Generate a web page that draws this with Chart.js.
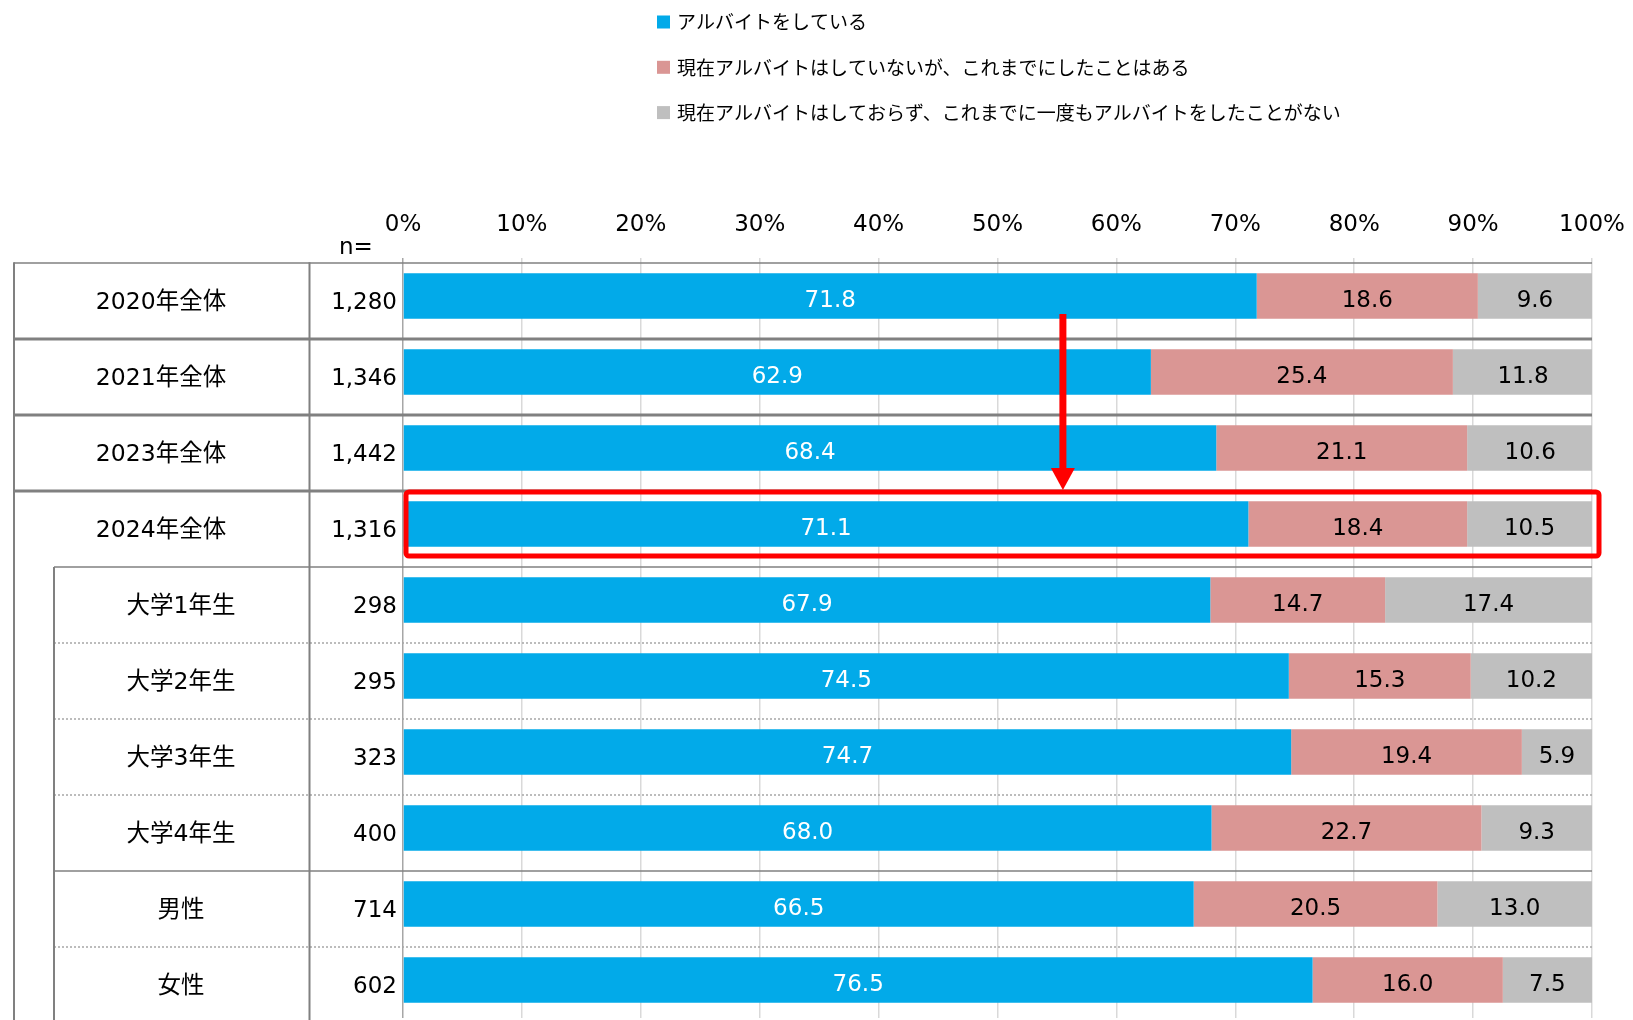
<!DOCTYPE html>
<html lang="ja">
<head>
<meta charset="utf-8">
<title>アルバイトの状況</title>
<script src="https://cdn.jsdelivr.net/npm/chart.js@4.4.1/dist/chart.umd.min.js"></script>
<style>
  html, body { margin: 0; padding: 0; background: #fff; overflow: hidden; }
  #wrap { width: 1633px; height: 1020px; }
</style>
</head>
<body>
<div id="wrap"><canvas id="myChart" width="1633" height="1020"></canvas></div>
<script>
// data
const categories = ['2020年全体', '2021年全体', '2023年全体', '2024年全体', '大学1年生', '大学2年生', '大学3年生', '大学4年生', '男性', '女性'];
const sampleSizes = ['1,280', '1,346', '1,442', '1,316', '298', '295', '323', '400', '714', '602'];
const working = [71.8, 62.9, 68.4, 71.1, 67.9, 74.5, 74.7, 68.0, 66.5, 76.5];
const workedBefore = [18.6, 25.4, 21.1, 18.4, 14.7, 15.3, 19.4, 22.7, 20.5, 16.0];
const neverWorked = [9.6, 11.8, 10.6, 10.5, 17.4, 10.2, 5.9, 9.3, 13.0, 7.5];
const seriesNames = [
  'アルバイトをしている',
  '現在アルバイトはしていないが、これまでにしたことはある',
  '現在アルバイトはしておらず、これまでに一度もアルバイトをしたことがない'
];
const seriesColors = ['#02AAE9', '#DA9694', '#BFBFBF'];

const FONT = '"DejaVu Sans", "Noto Sans CJK JP", sans-serif';
const JP = '"Noto Sans CJK JP", sans-serif';

// table lines, row labels, n=, legend, highlight box and arrow
const tablePlugin = {
  id: 'table',
  afterDatasetsDraw(chart) {
    const ctx = chart.ctx;
    chart.data.datasets.forEach(function(ds, d) {
      const meta = chart.getDatasetMeta(d);
      meta.data.forEach(function(bar, i) {
        ctx.save();
        ctx.font = '23px ' + FONT;
        ctx.fillStyle = d === 0 ? '#fff' : '#000';
        ctx.textAlign = 'center';
        ctx.textBaseline = 'middle';
        ctx.fillText(ds.data[i].toFixed(1), (bar.x + bar.base) / 2, bar.y + 5);
        ctx.restore();
      });
    });
  },
  afterDraw(chart) {
    const ctx = chart.ctx;
    const area = chart.chartArea;
    const ys = chart.scales.y;
    const xs = chart.scales.x;
    const step = ys.getPixelForValue(1) - ys.getPixelForValue(0);
    const rowTop = function(i) { return ys.getPixelForValue(i) - step / 2 + 5; };
    const n = categories.length;
    const bottom = chart.height;

    // horizontal separators
    const sepStyle = ['thin', 'thick', 'thick', 'thick', 'thin', 'dot', 'dot', 'dot', 'thin', 'dot'];
    ctx.save();
    for (let k = 0; k < n; k++) {
      const yy = rowTop(k);
      const x0 = k < 4 ? 14 : 54;
      ctx.beginPath();
      ctx.setLineDash([]);
      if (sepStyle[k] === 'thick') {
        ctx.lineWidth = 3.2; ctx.strokeStyle = '#808080';
      } else if (sepStyle[k] === 'thin') {
        ctx.lineWidth = 1.6; ctx.strokeStyle = '#808080';
      } else {
        ctx.lineWidth = 1.5; ctx.strokeStyle = '#a6a6a6'; ctx.setLineDash([2, 2]);
      }
      ctx.moveTo(x0, yy);
      ctx.lineTo(area.right, yy);
      ctx.stroke();
    }
    // vertical table lines
    ctx.setLineDash([]);
    ctx.lineWidth = 2;
    ctx.strokeStyle = '#808080';
    ctx.beginPath();
    ctx.moveTo(14, rowTop(0) - 0.8); ctx.lineTo(14, bottom);
    ctx.moveTo(309.5, rowTop(0) - 0.8); ctx.lineTo(309.5, bottom);
    ctx.moveTo(54, rowTop(4)); ctx.lineTo(54, bottom);
    ctx.stroke();
    ctx.restore();

    // row labels and n values
    ctx.save();
    ctx.fillStyle = '#000';
    ctx.textBaseline = 'middle';
    categories.forEach(function(c, i) {
      const cy = ys.getPixelForValue(i) + 7;
      ctx.font = '23.5px ' + FONT;
      ctx.textAlign = 'center';
      ctx.fillText(c, i < 4 ? 161 : 181, cy);
      ctx.font = '23px ' + FONT;
      ctx.textAlign = 'right';
      ctx.fillText(sampleSizes[i], 397, cy);
    });
    ctx.font = '23px ' + FONT;
    ctx.textAlign = 'left';
    ctx.fillText('n=', 339, 248);
    ctx.restore();

    // legend
    ctx.save();
    ctx.textBaseline = 'middle';
    ctx.textAlign = 'left';
    ctx.font = '19px ' + JP;
    chart.data.datasets.forEach(function(ds, d) {
      const ly = 22 + d * 45.3;
      ctx.fillStyle = ds.backgroundColor;
      ctx.fillRect(657, ly - 6.5, 13, 13);
      ctx.fillStyle = '#000';
      ctx.fillText(ds.label, 677, ly);
    });
    ctx.restore();

    // red highlight box around 2024
    const hy = ys.getPixelForValue(3);
    ctx.save();
    ctx.strokeStyle = '#FF0000';
    ctx.lineWidth = 5;
    ctx.beginPath();
    ctx.roundRect(area.left + 3, hy - 32, area.right - area.left + 4, 64, 3);
    ctx.stroke();

    // red arrow from 2020 down to 2024
    const ax = xs.getPixelForValue(55.5);
    const ay0 = ys.getPixelForValue(0) + 18;
    const tip = hy - 34;
    ctx.fillStyle = '#FF0000';
    ctx.fillRect(ax - 3.5, ay0, 7, tip - 22 - ay0 + 1);
    ctx.beginPath();
    ctx.moveTo(ax - 12, tip - 22);
    ctx.lineTo(ax + 12, tip - 22);
    ctx.lineTo(ax, tip);
    ctx.closePath();
    ctx.fill();
    ctx.restore();
  }
};

new Chart('myChart', {
  type: 'bar',
  data: {
    labels: categories,
    datasets: [
      { label: seriesNames[0], data: working, backgroundColor: seriesColors[0] },
      { label: seriesNames[1], data: workedBefore, backgroundColor: seriesColors[1] },
      { label: seriesNames[2], data: neverWorked, backgroundColor: seriesColors[2] }
    ]
  },
  options: {
    indexAxis: 'y',
    responsive: false,
    animation: false,
    datasets: { bar: { barPercentage: 0.6, categoryPercentage: 1.0, borderWidth: 0 } },
    layout: { padding: { left: 403, right: 41, top: 198, bottom: 2 } },
    scales: {
      x: {
        position: 'top',
        stacked: true,
        min: 0,
        max: 100,
        afterFit: function(scale) { scale.height = 60; },
        border: { display: false },
        grid: {
          drawTicks: false,
          lineWidth: 1.5,
          color: function(c) { return c.tick && c.tick.value === 0 ? '#a6a6a6' : '#d9d9d9'; }
        },
        ticks: {
          stepSize: 10,
          padding: 0,
          color: '#000',
          font: { family: FONT, size: 23, lineHeight: 2.87 },
          callback: function(v) { return v + '%'; }
        }
      },
      y: { stacked: true, display: false }
    },
    plugins: {
      legend: { display: false },
      tooltip: { enabled: false }
    }
  },
  plugins: [tablePlugin]
});
</script>
</body>
</html>
